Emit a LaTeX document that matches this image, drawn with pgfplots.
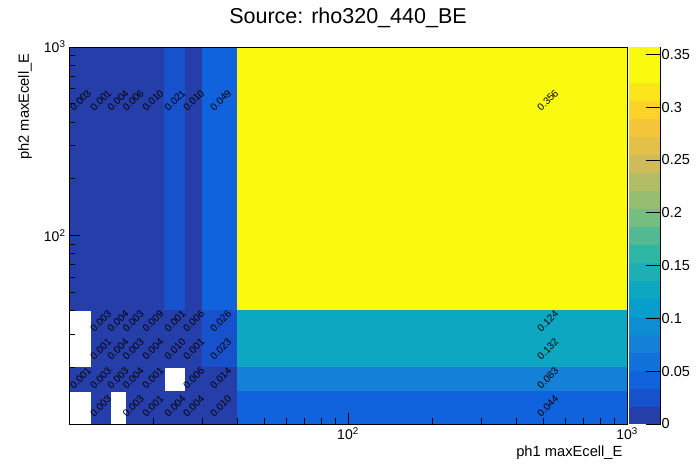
\documentclass[border=0pt]{standalone}
\usepackage{pgfplots}
\pgfplotsset{compat=1.18}
\usepackage{fontspec}
\setmainfont{Liberation Sans}
\begin{document}
\begin{tikzpicture}
\useasboundingbox (-69pt,-48pt) rectangle (627pt,424pt);
\begin{axis}[
  name=ax,
  at={(0pt,0pt)}, anchor=south west,
  scale only axis, width=558pt, height=377pt,
  xmode=log, ymode=log,
  xmin=10, xmax=1000, ymin=10, ymax=1000,
  enlargelimits=false,
  axis on top,
  tick pos=left, tick align=inside,
  major tick length=11pt, minor tick length=6pt,
  xtick={100,1000}, xticklabels={10\textsuperscript{2},10\textsuperscript{3}},
  ytick={100,1000}, yticklabels={10\textsuperscript{2},10\textsuperscript{3}},
  minor xtick={20,30,40,50,60,70,80,90,200,300,400,500,600,700,800,900},
  minor ytick={20,30,40,50,60,70,80,90,200,300,400,500,600,700,800,900},
  tick label style={font=\fontsize{14}{14}\selectfont},
  axis line style={line width=0.8pt},
  tick style={black, line width=0.8pt},
  colormap={bird}{rgb255=(38,62,169) rgb255=(23,82,204) rgb255=(16,99,220) rgb255=(18,114,217)
    rgb255=(20,128,214) rgb255=(14,142,209) rgb255=(9,157,204) rgb255=(14,167,194)
    rgb255=(30,175,179) rgb255=(46,183,164) rgb255=(81,186,146) rgb255=(117,189,128)
    rgb255=(150,190,113) rgb255=(179,189,101) rgb255=(208,187,89) rgb255=(227,192,74)
    rgb255=(245,198,58) rgb255=(253,210,43) rgb255=(251,230,28) rgb255=(249,250,14)
    rgb255=(249,250,14)},
  colormap access=piecewise constant,
  point meta min=0, point meta max=0.357,
  colorbar,
  colorbar style={
    at={(parent axis.north east)}, anchor=north west, xshift=-7pt,
    scale only axis, width=32pt, height=377pt,
    axis x line=none,
    axis y line*=right,
    tick align=inside,
    major tick length=15pt,
    ytick={0,0.05,0.1,0.15,0.2,0.25,0.3,0.35},
    yticklabels={0,0.05,0.1,0.15,0.2,0.25,0.3,0.35},
    yticklabel style={font=\fontsize{14.5}{14.5}\selectfont, inner sep=1pt},
    tick style={black, line width=0.8pt},
    axis line style={line width=0.8pt},
  },
]
\addplot[patch, patch type=rectangle, shader=faceted, faceted color=mapped color, line width=0.3pt, point meta=explicit] coordinates {
(10,40)[0.003] (12,40)[0.003] (12,1000)[0.003] (10,1000)[0.003]
(12,40)[0.001] (14,40)[0.001] (14,1000)[0.001] (12,1000)[0.001]
(14,40)[0.004] (16,40)[0.004] (16,1000)[0.004] (14,1000)[0.004]
(16,40)[0.006] (18,40)[0.006] (18,1000)[0.006] (16,1000)[0.006]
(18,40)[0.010] (22,40)[0.010] (22,1000)[0.010] (18,1000)[0.010]
(22,40)[0.021] (26,40)[0.021] (26,1000)[0.021] (22,1000)[0.021]
(26,40)[0.010] (30,40)[0.010] (30,1000)[0.010] (26,1000)[0.010]
(30,40)[0.049] (40,40)[0.049] (40,1000)[0.049] (30,1000)[0.049]
(40,40)[0.356] (1000,40)[0.356] (1000,1000)[0.356] (40,1000)[0.356]
(12,30)[0.003] (14,30)[0.003] (14,40)[0.003] (12,40)[0.003]
(14,30)[0.004] (16,30)[0.004] (16,40)[0.004] (14,40)[0.004]
(16,30)[0.003] (18,30)[0.003] (18,40)[0.003] (16,40)[0.003]
(18,30)[0.009] (22,30)[0.009] (22,40)[0.009] (18,40)[0.009]
(22,30)[0.001] (26,30)[0.001] (26,40)[0.001] (22,40)[0.001]
(26,30)[0.006] (30,30)[0.006] (30,40)[0.006] (26,40)[0.006]
(30,30)[0.026] (40,30)[0.026] (40,40)[0.026] (30,40)[0.026]
(40,30)[0.124] (1000,30)[0.124] (1000,40)[0.124] (40,40)[0.124]
(12,20)[0.001] (14,20)[0.001] (14,30)[0.001] (12,30)[0.001]
(14,20)[0.004] (16,20)[0.004] (16,30)[0.004] (14,30)[0.004]
(16,20)[0.003] (18,20)[0.003] (18,30)[0.003] (16,30)[0.003]
(18,20)[0.004] (22,20)[0.004] (22,30)[0.004] (18,30)[0.004]
(22,20)[0.010] (26,20)[0.010] (26,30)[0.010] (22,30)[0.010]
(26,20)[0.001] (30,20)[0.001] (30,30)[0.001] (26,30)[0.001]
(30,20)[0.023] (40,20)[0.023] (40,30)[0.023] (30,30)[0.023]
(40,20)[0.132] (1000,20)[0.132] (1000,30)[0.132] (40,30)[0.132]
(10,15)[0.001] (12,15)[0.001] (12,20)[0.001] (10,20)[0.001]
(12,15)[0.003] (14,15)[0.003] (14,20)[0.003] (12,20)[0.003]
(14,15)[0.003] (16,15)[0.003] (16,20)[0.003] (14,20)[0.003]
(16,15)[0.004] (18,15)[0.004] (18,20)[0.004] (16,20)[0.004]
(18,15)[0.001] (22,15)[0.001] (22,20)[0.001] (18,20)[0.001]
(26,15)[0.006] (30,15)[0.006] (30,20)[0.006] (26,20)[0.006]
(30,15)[0.014] (40,15)[0.014] (40,20)[0.014] (30,20)[0.014]
(40,15)[0.083] (1000,15)[0.083] (1000,20)[0.083] (40,20)[0.083]
(12,10)[0.003] (14,10)[0.003] (14,15)[0.003] (12,15)[0.003]
(16,10)[0.003] (18,10)[0.003] (18,15)[0.003] (16,15)[0.003]
(18,10)[0.001] (22,10)[0.001] (22,15)[0.001] (18,15)[0.001]
(22,10)[0.004] (26,10)[0.004] (26,15)[0.004] (22,15)[0.004]
(26,10)[0.004] (30,10)[0.004] (30,15)[0.004] (26,15)[0.004]
(30,10)[0.010] (40,10)[0.010] (40,15)[0.010] (30,15)[0.010]
(40,10)[0.044] (1000,10)[0.044] (1000,15)[0.044] (40,15)[0.044]
};
\addplot[only marks, mark=none,
  nodes near coords, point meta=explicit symbolic,
  nodes near coords style={rotate=45, anchor=center, black, font=\fontsize{10}{10}\selectfont}]
  table[meta=t] {
x y t
11 520 0.003
13 520 0.001
15 520 0.004
17 520 0.006
20 520 0.010
24 520 0.021
28 520 0.010
35 520 0.049
520 520 0.356
13 35 0.003
15 35 0.004
17 35 0.003
20 35 0.009
24 35 0.001
28 35 0.006
35 35 0.026
520 35 0.124
13 25 0.001
15 25 0.004
17 25 0.003
20 25 0.004
24 25 0.010
28 25 0.001
35 25 0.023
520 25 0.132
11 17.5 0.001
13 17.5 0.003
15 17.5 0.003
17 17.5 0.004
20 17.5 0.001
28 17.5 0.006
35 17.5 0.014
520 17.5 0.083
13 12.5 0.003
17 12.5 0.003
20 12.5 0.001
24 12.5 0.004
28 12.5 0.004
35 12.5 0.010
520 12.5 0.044
};
\end{axis}
\node[anchor=base, font=\fontsize{21.5}{22}\selectfont] at ([yshift=23pt]ax.north) {Source: rho320\_440\_BE};
\node[anchor=base east, font=\fontsize{14.7}{15}\selectfont] at ([xshift=-1pt,yshift=-32pt]ax.south east) {ph1 maxEcell\_E};
\node[rotate=90, anchor=base east, font=\fontsize{14.7}{15}\selectfont] at ([xshift=-40pt,yshift=-3pt]ax.north west) {ph2 maxEcell\_E};
\end{tikzpicture}
\end{document}
